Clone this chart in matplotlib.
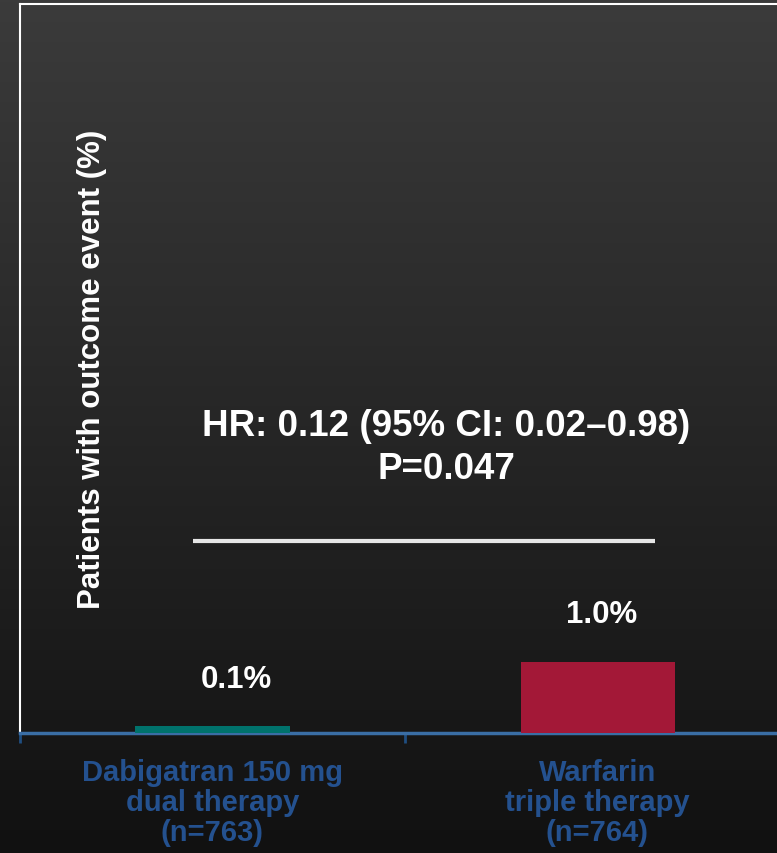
import numpy as np
import matplotlib.pyplot as plt
from matplotlib.colors import LinearSegmentedColormap

groups = ["Dabigatran 150 mg\ndual therapy\n(n=763)", "Warfarin\ntriple therapy\n(n=764)"]
rates = [0.1, 1.0]
bar_colors = ["#00726c", "#a31837"]
hr_text = "HR: 0.12 (95% CI: 0.02\u20130.98)\nP=0.047"

plt.rcParams['font.family'] = ['Liberation Sans', 'DejaVu Sans']
plt.rcParams['font.weight'] = 'bold'

fig = plt.figure(figsize=(7.77, 8.54), dpi=100)

# dark gradient backdrop
bg = fig.add_axes([0, 0, 1, 1])
grad = np.linspace(0, 1, 256).reshape(-1, 1)
cmap = LinearSegmentedColormap.from_list("bg", ["#3b3b3b", "#111111"])
bg.imshow(grad, aspect='auto', cmap=cmap, extent=[0, 1, 0, 1])
bg.axis('off')

ax = fig.add_axes([20/777, 120/854, 770/777, 729/854])
ax.patch.set_alpha(0)
x = np.arange(len(groups))
ax.bar(x, rates, width=0.4, color=bar_colors, zorder=3)
ax.set_xlim(-0.5, 1.5)
ax.set_ylim(0, 10.2)

# value labels above the bars
label_dx = [17, 3]
for xi, v, dx in zip(x, rates, label_dx):
    ax.annotate(f"{v:.1f}%", (xi, v), xytext=(dx, 34), textcoords='offset points',
                ha='center', va='center', color='white', fontsize=22.5, fontweight='bold')

ax.text(0.093, 0.5, "Patients with outcome event (%)", rotation=90, transform=ax.transAxes,
        ha='center', va='center', color='white', fontsize=22.5, fontweight='bold')

ax.text(0.608, 4.0, hr_text, ha='center', va='center', color='white', fontsize=26.5,
        fontweight='bold', linespacing=1.3)
ax.plot([-0.05, 1.15], [2.69, 2.69], color='#e6e6e6', lw=3, solid_capstyle='butt')

for s in ['left', 'top', 'right']:
    ax.spines[s].set_color('white')
    ax.spines[s].set_linewidth(1.5)
ax.spines['bottom'].set_color('#3a6ea5')
ax.spines['bottom'].set_linewidth(2.5)

ax.set_yticks([])
ax.set_xticks(x)
ax.set_xticklabels(groups, color='#24518f', fontsize=21, fontweight='bold', linespacing=1.08)
ax.tick_params(axis='x', which='major', length=0, pad=18)
ax.set_xticks([-0.5, 0.5, 1.5], minor=True)
ax.tick_params(axis='x', which='minor', length=7, width=2, color='#1f4e80', direction='out')

fig.savefig("out.png", dpi=100)
